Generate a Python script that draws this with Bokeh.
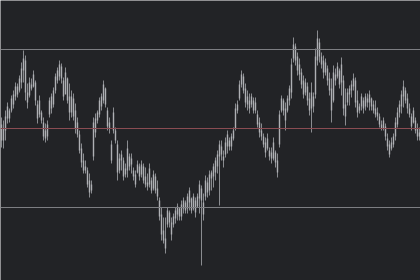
from bokeh.plotting import figure
from bokeh.models import Span, ColumnDataSource
from bokeh.embed import file_html
from bokeh.resources import INLINE

high = [183,180,190,198,192,205,210,218,217,225,238,250,245,217,223,222,230,220,200,205,
        190,183,177,180,203,207,213,227,233,240,237,223,233,223,217,210,207,197,183,170,
        157,147,140,133,127,120,183,187,190,203,207,220,213,193,183,160,193,173,160,147,
        150,143,137,160,147,147,133,130,140,137,140,137,133,127,137,123,130,127,120,103,
        93,83,83,93,90,83,87,93,97,93,100,103,100,107,113,103,107,103,107,120,
        115,107,125,123,130,130,137,143,150,160,160,150,163,170,163,167,173,197,200,220,
        230,227,217,210,207,207,203,203,190,183,177,167,163,167,153,153,163,150,147,190,
        205,202,198,205,215,242,263,257,248,242,232,225,222,218,208,218,208,252,270,262,
        248,245,242,235,228,222,235,232,238,232,243,225,212,212,215,220,227,223,210,197,
        207,203,207,207,210,203,200,200,193,187,180,183,177,167,160,163,167,183,193,200,
        210,220,213,207,197,187,193,183,177,173]
low = [153,152,160,177,178,188,192,200,203,208,212,218,200,192,203,210,213,195,177,183,
       177,160,158,160,183,187,193,207,217,220,217,200,213,197,180,183,180,167,163,147,
       133,127,127,113,103,107,140,163,177,183,190,197,193,170,167,137,167,157,120,127,
       130,120,123,123,130,127,120,113,127,120,123,117,113,110,113,107,110,107,100,80,
       60,57,47,73,73,60,73,77,80,80,80,87,87,87,90,87,90,83,93,87,
       35,80,100,103,105,110,113,120,127,95,140,133,143,147,150,150,160,170,187,200,
       213,207,193,190,187,193,187,187,173,163,160,153,143,150,140,137,140,133,123,153,
       188,185,170,188,195,202,238,235,225,220,212,202,205,195,185,168,188,202,235,238,
       232,222,225,215,205,178,198,215,222,212,205,185,175,195,195,203,210,193,183,187,
       190,187,190,193,190,190,187,183,180,173,170,170,160,150,143,150,153,160,173,183,
       187,193,197,187,183,170,177,167,160,160]
open_ = [176,160,170,182,190,190,196,204,214,210,218,230,240,208,205,216,214,218,196,186,
         188,178,170,164,186,192,196,210,220,224,234,220,206,222,204,188,202,190,178,166,
         152,140,134,130,120,110,144,168,180,186,194,200,212,190,172,156,170,170,156,130,
         140,140,126,130,144,136,130,126,128,134,126,134,124,118,116,120,112,124,112,100,
         86,70,62,76,88,78,76,82,86,92,84,92,98,92,98,102,92,100,94,102,
         112,98,104,118,110,122,124,128,134,144,154,144,146,154,160,154,162,172,190,202,
         216,224,212,196,200,196,200,190,186,178,170,164,158,152,150,148,142,148,140,156,
         190,200,192,190,200,208,242,254,244,236,228,220,208,214,202,192,204,206,240,258,
         244,240,228,232,222,212,200,226,224,230,218,220,196,198,206,210,214,220,200,190,
         194,200,194,202,198,202,196,192,188,184,176,172,174,162,156,152,156,164,176,188,
         194,204,210,202,192,184,178,180,172,164]
close = [160,172,184,194,182,202,206,214,206,222,232,242,208,198,218,212,226,200,182,200,
         180,164,162,176,200,204,210,224,230,236,222,204,228,200,188,204,184,172,166,150,
         138,130,130,116,108,116,178,182,188,200,204,216,196,174,178,140,188,160,128,142,
         146,124,132,152,134,142,124,116,136,124,136,120,116,114,132,110,126,110,104,84,
         66,60,52,90,78,66,84,90,94,84,96,100,90,104,110,90,104,88,104,116,
         100,86,120,108,126,128,134,140,146,156,146,140,158,166,154,164,170,192,196,216,
         226,210,198,204,192,204,190,198,176,168,164,156,148,162,144,142,158,138,128,186,
         202,190,180,202,212,236,256,240,230,226,216,206,218,200,190,208,194,244,262,244,
         236,228,238,220,210,190,228,220,234,216,236,192,184,208,212,216,222,198,188,194,
         204,192,204,198,206,194,190,186,184,176,172,180,164,154,146,158,164,178,188,196,
         206,214,200,192,186,174,190,170,164,168]
levels = [251, 93]
pivot = 172

n = len(high)
idx = list(range(n))
src = ColumnDataSource(dict(
    x=idx, high=high, low=low,
    top=[max(o, c) for o, c in zip(open_, close)],
    bottom=[min(o, c) for o, c in zip(open_, close)],
))

bg = "#222326"
p = figure(width=420, height=280, x_range=(-0.5, n - 0.5), y_range=(20, 300),
           toolbar_location=None, output_backend="svg", min_border=0,
           background_fill_color=bg, border_fill_color=bg, outline_line_color=None)
p.xaxis.visible = False
p.yaxis.visible = False
p.xgrid.grid_line_color = None
p.ygrid.grid_line_color = None

for lv in levels:
    p.add_layout(Span(location=lv, dimension="width", line_color="#7d7e82", line_width=1))
p.add_layout(Span(location=pivot, dimension="width", line_color="#8a4c52", line_width=1))

p.segment(x0="x", y0="low", x1="x", y1="high", source=src, line_color="#8a8c90", line_width=1)
p.vbar(x="x", top="top", bottom="bottom", width=0.7, source=src,
       fill_color="#aeb0b4", line_color=None)

open("out.html", "w").write(file_html(p, INLINE))
